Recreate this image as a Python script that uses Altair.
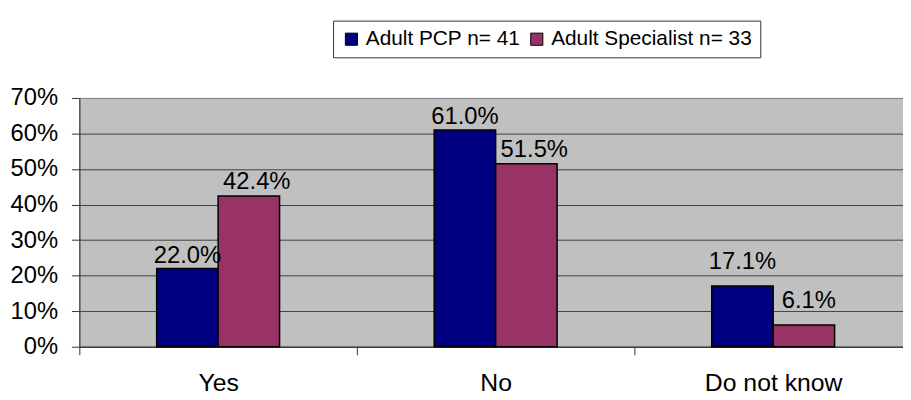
import altair as alt
import pandas as pd

categories = ["Yes", "No", "Do not know"]
series = ["Adult PCP n= 41", "Adult Specialist n= 33"]
pcp_values = [0.220, 0.610, 0.171]
specialist_values = [0.424, 0.515, 0.061]
colors = ["#000080", "#993366"]
y_ticks = [0.0, 0.1, 0.2, 0.3, 0.4, 0.5, 0.6, 0.7]

rows = []
for i, c in enumerate(categories):
    rows.append({"cat": c, "series": series[0], "value": pcp_values[i]})
    rows.append({"cat": c, "series": series[1], "value": specialist_values[i]})
df = pd.DataFrame(rows)

FONT = "Liberation Sans"

x_enc = alt.X(
    "cat:N", sort=categories, title=None,
    scale=alt.Scale(range=[0, 840], paddingInner=0, paddingOuter=0),
    axis=alt.Axis(labelAngle=0, labelFontSize=25, labelFont=FONT, labelColor="black",
                  tickBand="extent", tickSize=8, labelPadding=16, domainColor="#333333",
                  tickColor="#333333", grid=False),
)
y_enc = alt.Y(
    "value:Q", title=None,
    scale=alt.Scale(domain=[0, 0.7], nice=False),
    axis=alt.Axis(format=".0%", values=y_ticks, tickSize=8, labelPadding=14,
                  labelFontSize=24, labelFont=FONT, labelColor="black",
                  domainColor="#333333", tickColor="#333333",
                  gridColor={"condition": {"test": "datum.value >= 0.7", "value": "#888888"}, "value": "#404040"},
                  gridWidth=1),
)
xoff = alt.XOffset("series:N", sort=series,
                   scale=alt.Scale(range=[78, 202], paddingInner=0, paddingOuter=0))

base = alt.Chart(df)

bars = base.mark_bar(stroke="black", strokeWidth=1.5).encode(
    x=x_enc, y=y_enc, xOffset=xoff,
    color=alt.Color("series:N", sort=series,
                    scale=alt.Scale(domain=series, range=colors),
                    legend=alt.Legend(title=None, orient="none", legendX=256, legendY=-78,
                                      direction="horizontal", strokeColor="#333333", fillColor="white",
                                      padding=8, labelFontSize=21, labelFont=FONT, labelColor="black",
                                      labelLimit=0,
                                      symbolType="square", symbolSize=150, symbolStrokeColor="black",
                                      symbolStrokeWidth=1, columnPadding=6, labelOffset=4)),
)


def label_layer(filter_expr, dy, dx):
    return base.mark_text(baseline="alphabetic", dy=dy, dx=dx, fontSize=24, font=FONT,
                          color="black").encode(
        x=x_enc, y=y_enc, xOffset=xoff,
        text=alt.Text("value:Q", format=".1%"),
    ).transform_filter(filter_expr)


lab_pcp = label_layer(f"datum.series == '{series[0]}' && datum.cat != 'Do not know'", -6, 0)
lab_spec = label_layer(f"datum.series == '{series[1]}' && datum.cat != 'Do not know'", -7, 8)
lab_pcp_dk = label_layer(f"datum.series == '{series[0]}' && datum.cat == 'Do not know'", -17, 0)
lab_spec_dk = label_layer(f"datum.series == '{series[1]}' && datum.cat == 'Do not know'", -17, 5)

chart = alt.layer(bars, lab_pcp, lab_spec, lab_pcp_dk, lab_spec_dk).properties(
    width=831, height=251,
    autosize=alt.AutoSizeParams(type="none"),
    padding={"left": 72, "top": 89, "right": 0, "bottom": 52},
).configure_view(fill="#C0C0C0", stroke="#808080", strokeWidth=1)

chart.save("out.html", embed_options={"renderer": "svg", "actions": False})
